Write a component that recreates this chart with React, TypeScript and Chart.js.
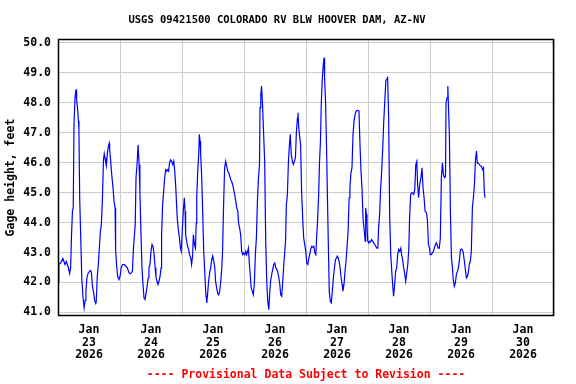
import React, { useEffect, useRef } from 'react';
import { Chart, registerables } from 'chart.js';

Chart.register(...registerables);

const titleText = 'USGS 09421500 COLORADO RV BLW HOOVER DAM, AZ-NV';
const footerText = '---- Provisional Data Subject to Revision ----';
const yAxisTitle = 'Gage height, feet';
const monthLabel = 'Jan';
const yearLabel = '2026';
const dayLabels = ['23', '24', '25', '26', '27', '28', '29', '30'];
const yTicks = [41, 42, 43, 44, 45, 46, 47, 48, 49, 50];

// hours since Jan 23 2026 00:00
const hours = [
  0.0, 0.3, 1.0, 1.9, 2.7, 3.2, 4.0, 4.5, 4.9, 5.2, 5.6, 5.9, 6.2, 6.6, 7.0, 7.2, 7.6, 7.9, 8.1, 8.4,
  8.8, 9.2, 9.7, 10.1, 10.5, 10.8, 11.2, 11.6, 12.0, 12.5, 12.9, 13.3, 13.8, 14.2, 14.6, 14.8, 15.2, 15.6, 16.0, 16.4,
  16.8, 17.2, 17.6, 17.9, 18.2, 18.5, 18.7, 19.1, 19.5, 19.8, 20.0, 20.4, 20.8, 21.3, 21.7, 22.1, 22.3, 22.7, 23.1, 23.6,
  24.0, 24.5, 25.0, 25.7, 26.2, 26.85, 27.5, 28.1, 28.8, 29.2, 29.6, 29.9, 30.2, 30.6, 31.0, 31.4, 31.7, 32.1, 32.5, 32.9,
  33.3, 33.7, 34.1, 34.5, 34.9, 35.2, 35.6, 36.0, 36.4, 36.8, 37.2, 37.6, 37.9, 38.3, 38.7, 39.1, 39.5, 39.9, 40.1, 40.5,
  40.9, 41.3, 41.7, 42.1, 42.5, 42.8, 43.2, 43.6, 44.0, 44.4, 44.8, 45.2, 45.6, 45.9, 46.2, 46.6, 47.0, 47.4, 47.7, 48.1,
  48.5, 48.9, 49.2, 49.4, 49.8, 50.2, 50.6, 50.9, 51.4, 51.7, 52.1, 52.4, 52.8, 53.2, 53.5, 53.7, 54.1, 54.5, 54.7, 55.0,
  55.2, 55.6, 56.0, 56.4, 56.8, 57.2, 57.6, 58.0, 58.3, 58.7, 59.1, 59.5, 59.9, 60.3, 60.7, 61.0, 61.4, 61.8, 62.2, 62.6,
  63.0, 63.4, 63.7, 64.1, 64.5, 64.9, 65.3, 65.7, 66.1, 66.5, 66.8, 67.2, 67.6, 68.0, 68.4, 68.8, 69.2, 69.6, 69.9, 70.3,
  70.7, 71.1, 71.5, 71.9, 72.3, 72.7, 73.0, 73.4, 73.7, 74.1, 74.5, 74.8, 75.2, 75.6, 76.0, 76.4, 76.8, 77.2, 77.6, 78.0,
  78.2, 78.5, 78.8, 79.2, 79.6, 80.0, 80.4, 80.8, 81.2, 81.6, 82.0, 82.3, 82.7, 83.1, 83.5, 83.9, 84.3, 84.7, 85.0, 85.4,
  85.8, 86.2, 86.6, 87.0, 87.4, 87.8, 88.1, 88.4, 88.8, 89.2, 89.6, 89.9, 90.3, 90.7, 91.1, 91.5, 91.9, 92.3, 92.7, 92.9,
  93.2, 93.6, 93.9, 94.3, 94.7, 95.1, 95.5, 95.9, 96.3, 96.7, 97.0, 97.4, 97.8, 98.2, 98.6, 99.0, 99.4, 99.8, 100.1, 100.5,
  100.9, 101.2, 101.6, 101.9, 102.3, 102.7, 103.0, 103.2, 103.6, 104.0, 104.4, 104.7, 105.0, 105.4, 105.8, 106.2, 106.6, 107.0, 107.4, 107.8,
  108.1, 108.5, 108.8, 109.2, 109.6, 110.0, 110.3, 110.7, 111.1, 111.5, 111.9, 112.3, 112.7, 113.0, 113.4, 113.8, 114.2, 114.6, 115.0, 115.4,
  115.8, 116.1, 116.5, 116.9, 117.3, 117.7, 118.1, 118.5, 118.9, 119.1, 119.4, 119.6, 119.9, 120.3, 120.7, 121.0, 121.4, 121.8, 122.2, 122.6,
  123.0, 123.4, 123.8, 124.1, 124.5, 124.9, 125.3, 125.7, 126.1, 126.5, 126.9, 127.2, 127.6, 128.0, 128.4, 128.8, 129.2, 129.6, 129.9, 130.3,
  130.7, 131.1, 131.5, 131.9, 132.3, 132.7, 133.0, 133.4, 133.8, 134.2, 134.6, 135.0, 135.4, 135.8, 136.1, 136.5, 136.9, 137.3, 137.7, 138.1,
  138.5, 138.9, 139.2, 139.6, 140.0, 140.5, 140.9, 141.3, 141.7, 142.1, 142.6, 143.0, 143.4, 143.8, 144.1, 144.5, 144.9, 145.3, 145.7, 146.1,
  146.5, 146.9, 147.2, 147.6, 148.0, 148.4, 148.8, 149.2, 149.6, 150.0, 150.2, 150.6, 150.9, 151.1, 151.5, 151.9, 152.3, 152.7, 153.0, 153.4,
  153.8, 154.2, 154.6, 155.0, 155.4, 155.8, 156.1, 156.5, 156.9, 157.3, 157.7, 158.1, 158.5, 158.9, 159.2, 159.6, 160.0, 160.4, 160.8, 161.2,
  161.6, 162.0, 162.3, 162.7, 163.1, 163.5, 163.9, 164.3, 164.7, 165.0, 165.3,
];

const gageHeight = [
  42.0, 42.6, 42.65, 42.8, 42.6, 42.7, 42.5, 42.3, 42.5, 43.5, 44.4, 44.5, 47.3, 48.2, 48.45, 48.1, 47.8, 47.4, 47.1, 44.8,
  43.5, 42.15, 41.5, 41.15, 41.4, 41.7, 42.15, 42.3, 42.35, 42.4, 42.35, 41.9, 41.65, 41.4, 41.3, 41.35, 42.2, 42.6, 43.15, 43.7,
  43.95, 44.8, 46.1, 46.3, 46.15, 46.0, 45.9, 46.3, 46.55, 46.65, 46.45, 46.05, 45.6, 45.15, 44.7, 44.5, 43.1, 42.55, 42.2, 42.1,
  42.2, 42.5, 42.6, 42.6, 42.55, 42.49, 42.32, 42.29, 42.37, 43.15, 43.6, 43.94, 45.5, 45.94, 46.6, 45.94, 45.05, 43.7, 42.49, 41.93,
  41.48, 41.43, 41.65, 41.87, 42.15, 42.49, 42.6, 43.04, 43.27, 43.2, 42.93, 42.49, 42.2, 42.04, 41.93, 42.04, 42.2, 42.49, 43.6, 44.6,
  45.05, 45.5, 45.77, 45.72, 45.77, 45.72, 46.0, 46.1, 46.05, 45.94, 46.05, 45.72, 45.16, 44.6, 44.1, 43.77, 43.49, 43.15, 43.04, 43.71,
  44.38, 44.83, 44.38, 43.6, 43.38, 43.2, 43.1, 42.93, 42.82, 42.6, 42.88, 43.6, 43.27, 43.15, 43.99, 44.83, 45.72, 46.33, 46.95, 46.72,
  46.33, 45.6, 44.38, 43.04, 42.37, 41.65, 41.32, 41.71, 42.04, 42.32, 42.49, 42.76, 42.88, 42.71, 42.49, 42.04, 41.82, 41.65, 41.59, 41.71,
  42.04, 42.49, 43.04, 44.6, 45.83, 46.05, 45.89, 45.72, 45.66, 45.55, 45.44, 45.38, 45.27, 45.1, 44.94, 44.72, 44.49, 44.38, 43.99, 43.82,
  43.6, 43.04, 42.93, 42.99, 42.93, 43.04, 42.93, 43.04, 43.15, 42.6, 42.15, 41.82, 41.71, 41.59, 41.93, 42.93, 43.49, 44.72, 45.5, 45.94,
  47.84, 48.28, 48.56, 47.89, 46.95, 46.05, 43.38, 42.04, 41.37, 41.09, 41.71, 42.04, 42.26, 42.43, 42.6, 42.65, 42.49, 42.43, 42.37, 42.2,
  41.98, 41.59, 41.54, 42.04, 42.6, 43.04, 43.43, 44.6, 44.94, 46.05, 46.61, 46.95, 46.28, 46.05, 45.94, 46.05, 46.16, 47.06, 47.5, 47.67,
  47.17, 46.83, 46.61, 45.05, 44.16, 43.49, 43.27, 43.04, 42.65, 42.6, 42.76, 42.93, 43.1, 43.21, 43.18, 43.21, 42.99, 42.93, 43.49, 44.1,
  44.94, 45.94, 46.72, 47.95, 48.78, 49.29, 49.51, 48.84, 47.95, 46.28, 44.38, 43.04, 41.71, 41.37, 41.32, 41.71, 42.15, 42.49, 42.76, 42.82,
  42.88, 42.82, 42.71, 42.49, 42.15, 41.93, 41.71, 41.93, 42.37, 42.71, 43.21, 43.71, 44.83, 45.16, 45.66, 45.83, 46.95, 47.39, 47.61, 47.73,
  47.75, 47.75, 47.73, 46.61, 45.72, 45.1, 44.1, 43.77, 43.38, 44.49, 44.27, 43.94, 43.38, 43.32, 43.38, 43.36, 43.43, 43.38, 43.32, 43.27,
  43.21, 43.15, 43.15, 43.82, 44.27, 45.16, 45.72, 46.5, 47.39, 48.06, 48.73, 48.78, 48.84, 47.5, 44.16, 42.93, 42.37, 41.87, 41.54, 41.93,
  42.37, 42.49, 42.93, 43.1, 43.04, 43.15, 42.93, 42.76, 42.49, 42.3, 42.04, 42.32, 42.6, 43.15, 44.16, 44.94, 44.99, 44.99, 44.94, 45.1,
  45.94, 46.05, 45.27, 44.83, 45.27, 45.5, 45.83, 45.16, 44.83, 44.38, 44.33, 44.1, 43.27, 43.15, 42.93, 42.93, 42.99, 43.04, 43.15, 43.27,
  43.32, 43.21, 43.15, 43.15, 43.49, 45.5, 46.0, 45.61, 45.5, 45.55, 48.0, 48.17, 48.56, 48.0, 46.95, 44.38, 42.82, 42.49, 42.1, 41.87,
  41.98, 42.26, 42.37, 42.49, 42.76, 43.1, 43.12, 43.1, 42.99, 42.71, 42.43, 42.15, 42.2, 42.37, 42.6, 42.71, 43.04, 44.49, 44.83, 45.27,
  46.1, 46.39, 45.99, 45.99, 45.94, 45.89, 45.89, 45.77, 45.83, 45.05, 44.83,
];

const FONT_FAMILY = '"DejaVu Sans Mono", "Liberation Mono", monospace';

const framePlugin = {
  id: 'plotFrame',
  afterDraw(chart: any) {
    const { ctx, chartArea } = chart;
    const l = Math.round(chartArea.left) + 0.5;
    const t = Math.round(chartArea.top) + 0.5;
    const r = Math.round(chartArea.right) - 0.5;
    const b = Math.round(chartArea.bottom) - 0.5;
    ctx.save();
    ctx.strokeStyle = '#000000';
    ctx.lineWidth = 1.5;
    ctx.strokeRect(l, t, r - l, b - t);
    ctx.restore();
  },
};

export default function App() {
  const canvasRef = useRef<HTMLCanvasElement | null>(null);

  useEffect(() => {
    const canvas = canvasRef.current;
    if (!canvas) return;
    const points = hours.map((h, i) => ({ x: h, y: gageHeight[i] }));
    const chart = new Chart(canvas, {
      type: 'line',
      data: {
        datasets: [
          {
            data: points,
            borderColor: '#0000ff',
            borderWidth: 1.2,
            pointRadius: 0,
            tension: 0,
            fill: false,
          },
        ],
      },
      plugins: [framePlugin],
      options: {
        animation: false,
        responsive: false,
        devicePixelRatio: 1,
        layout: { padding: { left: 0, right: 22, top: 0, bottom: 0 } },
        plugins: {
          legend: { display: false },
          tooltip: { enabled: false },
          title: {
            display: true,
            text: titleText,
            color: '#000000',
            font: { family: FONT_FAMILY, size: 10.5, weight: 'bold', lineHeight: 1.2 },
            padding: { top: 13.5, bottom: 13 },
          },
        },
        scales: {
          x: {
            type: 'linear',
            min: 0,
            max: 192,
            border: { display: false },
            grid: {
              drawTicks: false,
              lineWidth: 1,
              color: (c: any) =>
                c.tick && Math.round(c.tick.value) % 24 === 0 ? '#cccccc' : 'rgba(0,0,0,0)',
            },
            afterBuildTicks: (scale: any) => {
              const t = [];
              for (let v = 0; v <= 192; v += 12) t.push({ value: v });
              scale.ticks = t;
            },
            afterFit: (scale: any) => {
              scale.height = 68;
            },
            ticks: {
              autoSkip: false,
              maxRotation: 0,
              minRotation: 0,
              padding: 8,
              color: '#000000',
              font: { family: FONT_FAMILY, size: 11.5, weight: 'bold', lineHeight: '12.5px' as any },
              callback: (value: any) => {
                const v = Math.round(Number(value));
                if (v % 24 !== 12) return '';
                const idx = (v - 12) / 24;
                return [monthLabel, dayLabels[idx], yearLabel];
              },
            },
            title: {
              display: true,
              text: footerText,
              color: '#ff0000',
              font: { family: FONT_FAMILY, size: 11.5, weight: 'bold', lineHeight: 1.2 },
              padding: { top: 0, bottom: 2.1 },
            },
          },
          y: {
            type: 'linear',
            min: 40.88,
            max: 50.13,
            border: { display: false },
            grid: { drawTicks: false, color: '#cccccc', lineWidth: 1 },
            afterBuildTicks: (scale: any) => {
              scale.ticks = yTicks.map((v) => ({ value: v }));
            },
            afterFit: (scale: any) => {
              scale.width = 58;
            },
            ticks: {
              padding: 7,
              color: '#000000',
              font: { family: FONT_FAMILY, size: 11.5, weight: 'bold' },
              callback: (value: any) => Number(value).toFixed(1),
            },
            title: {
              display: true,
              text: yAxisTitle,
              color: '#000000',
              font: { family: FONT_FAMILY, size: 11.5, weight: 'bold', lineHeight: 1.2 },
              padding: { top: 4.6, bottom: 0 },
            },
          },
        },
      },
    });
    return () => {
      chart.destroy();
    };
  }, []);

  return (
    <div style={{ position: 'fixed', left: 0, top: 0, width: 576, height: 384, background: '#ffffff' }}>
      <canvas ref={canvasRef} width={576} height={384} style={{ width: 576, height: 384, display: 'block' }} />
    </div>
  );
}
